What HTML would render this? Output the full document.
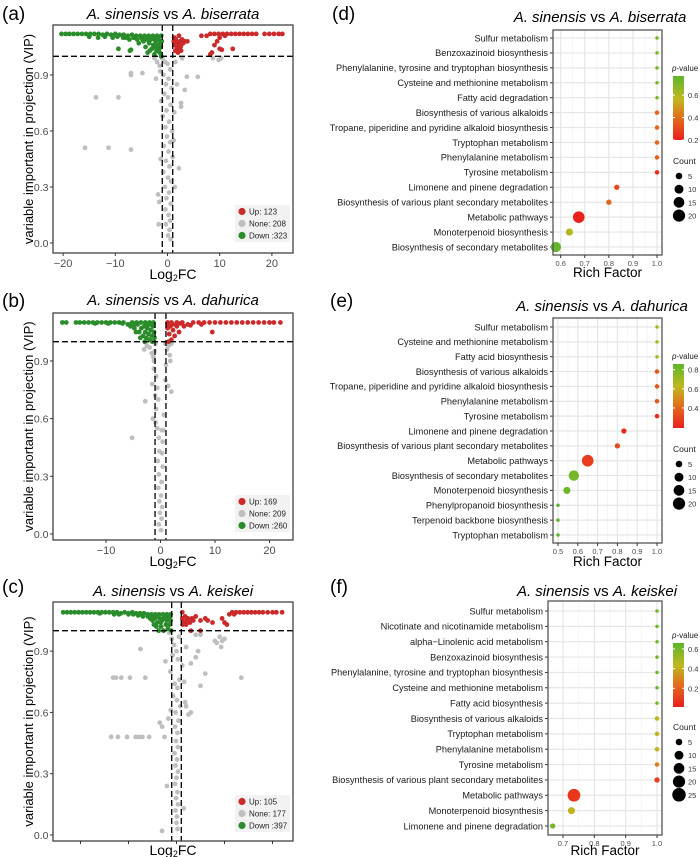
<!DOCTYPE html>
<html><head><meta charset="utf-8">
<style>
html,body{margin:0;padding:0;background:#fff;}
svg{display:block;font-family:"Liberation Sans",Arial,sans-serif;}
</style></head>
<body>
<svg id="fig" width="700" height="857" viewBox="0 0 700 857" xmlns="http://www.w3.org/2000/svg"></svg>
<script>
// ---------- Volcano data: [log2FC, VIP] ----------
const aGreen=[[-20.3,1.12],[-19.5,1.12],[-18.8,1.12],[-18,1.12],[-17.2,1.12],[-16.4,1.12],[-15.6,1.12],[-14.8,1.12],[-14,1.12],[-13.2,1.12],[-12.4,1.115],[-11.6,1.12],[-10.8,1.115],[-10,1.12],[-9.2,1.115],[-8.4,1.115],[-7.6,1.11],[-6.8,1.115],[-6,1.11],[-5.2,1.11],[-4.4,1.11],[-3.6,1.11],[-2.8,1.11],[-2,1.11],[-1.2,1.11],[-13.3,1.1],[-10.5,1.1],[-8.5,1.1],[-7.3,1.09],[-9.4,1.04],[-7.2,1.03],[-7,1.035],[-5.5,1.07],[-4.6,1.08],[-4.2,1.05],[-3.8,1.02],[-3.5,1.07],[-3.2,1.09],[-3,1.04],[-2.7,1.06],[-2.5,1.01],[-2.3,1.08],[-2.1,1.03],[-1.9,1.06],[-1.7,1.09],[-1.5,1.02],[-1.3,1.05],[-1.1,1.08],[-1.2,1.0],[-3.9,1.09],[-4.8,1.09],[-2.8,1.095],[-1.6,1.04],[-2.2,1.045],[-3.4,1.03],[-1.4,1.075],[-6.2,1.1],[-5.8,1.09],[-15,1.105],[-12,1.105],[-9.6,1.105],[-8,1.1],[-6.5,1.1],[-5,1.1],[-4,1.1],[-3,1.1],[-2.4,1.1],[-1.8,1.1]];
const aRed=[[1.2,1.08],[1.4,1.06],[1.6,1.09],[1.8,1.05],[2,1.07],[2.2,1.04],[2.4,1.08],[2.6,1.06],[2.8,1.09],[3,1.07],[3.3,1.08],[1.5,1.03],[2,1.02],[2.5,1.05],[1.3,1.1],[2.2,1.11],[3.8,1.08],[2.6,1.03],[7.5,1.11],[8.2,1.12],[9,1.12],[9.8,1.12],[10.6,1.12],[11.4,1.12],[12.2,1.12],[13,1.12],[13.8,1.12],[14.6,1.12],[15.4,1.12],[16.2,1.12],[17,1.12],[18.6,1.12],[19.5,1.12],[20.4,1.12],[21.3,1.12],[22,1.12],[10,1.1],[11,1.11],[8.5,1.02],[8.2,1.01],[10,1.04],[10.4,1.035],[12.5,1.04],[9,1.06],[9.5,1.08],[6.5,1.11]];
const aGray=[[-15.8,0.51],[-11.3,0.51],[-7,0.5],[-13.7,0.78],[-9.4,0.78],[-7,0.91],[-7,0.9],[-4.8,0.91],[-2.2,0.88],[3.7,0.89],[5.8,0.89],[3.3,0.82],[2.6,0.75],[2.6,0.73],[2.2,0.4],[-1.8,0.26],[-1.7,0.1],[-1.6,0.22],[9.8,0.98],[10.3,0.99],[8.7,0.99],[2.8,0.99],[-1,0.99],[-0.5,0.97],[0,0.96],[-1.5,0.95],[0.5,0.93],[-0.8,0.9],[0.2,0.88],[-0.3,0.85],[0.8,0.83],[-0.6,0.8],[0.1,0.78],[-1.2,0.76],[0.6,0.74],[-0.2,0.71],[1.3,0.7],[-0.9,0.68],[0.3,0.65],[-0.4,0.62],[0.9,0.6],[-0.1,0.57],[0.5,0.54],[-0.7,0.52],[0.2,0.49],[1,0.46],[-0.3,0.44],[0.4,0.41],[-0.8,0.38],[0.1,0.35],[0.7,0.33],[-0.5,0.3],[0.3,0.27],[-0.2,0.24],[0.6,0.21],[-0.4,0.18],[0.2,0.15],[0.5,0.12],[-0.3,0.1],[0.4,0.07],[0.1,0.04],[0.6,0.02],[-1.4,0.92],[1.5,0.97],[1.8,0.85],[-2,0.97],[-2.5,0.99],[1.2,0.55],[-1.3,0.45],[1.4,0.3]];
const bGreen=[[-18,1.1],[-17.3,1.1],[-15.5,1.1],[-14.8,1.1],[-14,1.1],[-13.2,1.1],[-12.4,1.1],[-11.6,1.1],[-10.8,1.1],[-10,1.1],[-9.2,1.1],[-8.4,1.1],[-7.6,1.1],[-6.8,1.1],[-6,1.09],[-5.2,1.1],[-4.4,1.1],[-3.6,1.1],[-2.8,1.1],[-2,1.1],[-1.3,1.1],[-5.5,1.08],[-4.8,1.07],[-4.2,1.09],[-3.9,1.05],[-3.5,1.07],[-3.2,1.03],[-3,1.08],[-2.8,1.05],[-2.6,1.02],[-2.4,1.07],[-2.2,1.04],[-2,1.01],[-1.8,1.06],[-1.6,1.03],[-1.4,1.08],[-1.2,1.05],[-1.1,1.02],[-4.5,1.05],[-3.7,1.02],[-2.9,1.0],[-2.5,1.09],[-1.9,1.09],[-1.5,1.0],[-12,1.095],[-9.6,1.095],[-7,1.095],[-5.6,1.09],[-4.8,1.09]];
const bRed=[[1.3,1.1],[2,1.1],[3,1.1],[4,1.1],[5,1.09],[6,1.1],[7,1.1],[8,1.1],[9,1.1],[10,1.1],[11,1.1],[12,1.1],[13,1.1],[14,1.1],[15,1.1],[16,1.1],[17,1.1],[18,1.1],[19,1.1],[20,1.1],[20.8,1.1],[22,1.1],[1.3,1.07],[1.6,1.04],[1.8,1.08],[2,1.01],[2.3,1.06],[2.6,1.03],[3,1.08],[3.4,1.05],[1.5,1.0],[2.8,1.09],[4.3,1.08],[5.5,1.085],[7.5,1.09],[9.5,1.05],[1.4,1.09],[2.2,1.09],[3.7,1.095]];
const bGray=[[-5.2,0.5],[-2.8,0.69],[2,0.74],[-2.5,0.98],[-2,0.97],[-1.6,0.94],[-1.3,0.92],[-1.1,0.95],[1.2,0.96],[1.5,0.98],[2,0.99],[1.8,0.9],[-1.2,0.86],[-0.8,0.82],[-1.5,0.78],[-0.6,0.76],[-1,0.72],[0.9,0.8],[1.4,0.77],[-0.4,0.7],[-1.4,0.6],[-0.9,0.58],[-0.6,0.55],[0.2,0.54],[0.5,0.54],[-0.3,0.5],[0.4,0.48],[-0.2,0.43],[0.3,0.42],[-0.5,0.38],[0.4,0.35],[-0.3,0.31],[0.2,0.27],[-0.4,0.24],[0.1,0.2],[-0.2,0.17],[0.3,0.14],[-0.1,0.11],[0.2,0.08],[-0.3,0.05],[0.1,0.02],[-0.8,0.65],[0.6,0.62],[-1.2,0.9],[1.0,0.88],[-0.9,0.99],[0.9,0.99],[-3,0.96],[1.7,0.93]];
const cGreen=[[-23.6,1.09],[-22.8,1.09],[-22,1.09],[-21.2,1.09],[-20.4,1.09],[-19.6,1.09],[-18.8,1.09],[-18,1.09],[-17.2,1.09],[-16.4,1.09],[-15.6,1.09],[-14.8,1.09],[-14,1.09],[-13.2,1.09],[-12.4,1.09],[-11.6,1.085],[-10.8,1.09],[-10,1.085],[-9.2,1.09],[-8.4,1.085],[-7.6,1.085],[-6.8,1.085],[-6,1.08],[-5.2,1.08],[-4.4,1.08],[-3.6,1.08],[-2.8,1.08],[-2,1.08],[-1.2,1.08],[-13,1.08],[-10,1.08],[-8,1.075],[-7,1.07],[-6,1.07],[-5.5,1.06],[-5,1.05],[-4.7,1.03],[-4.5,1.06],[-4.2,1.02],[-4,1.04],[-3.7,1.0],[-3.5,1.06],[-3.2,1.02],[-3,1.05],[-2.7,1.0],[-2.5,1.07],[-2.2,1.03],[-2,1.05],[-1.8,1.01],[-1.6,1.07],[-1.4,1.03],[-1.2,1.05],[-1.1,1.0],[-3.8,1.07],[-2.8,1.06],[-1.8,1.06],[-4.8,1.065],[-5.8,1.075],[-3.3,1.04],[-2.3,1.06],[-1.3,1.07],[-16,1.085],[-12,1.08],[-9,1.08],[-7.5,1.08]];
const cRed=[[1.2,1.06],[1.5,1.04],[1.8,1.07],[2.1,1.05],[2.4,1.06],[2.8,1.04],[3.2,1.06],[3.5,1.05],[1.3,1.03],[2,1.03],[5,1.05],[6,1.06],[6.5,1.05],[7.5,1.04],[9.5,1.06],[10,1.04],[10.5,1.03],[11,1.08],[11.6,1.09],[12.4,1.09],[13.2,1.09],[14,1.09],[14.8,1.09],[15.6,1.09],[16.4,1.09],[17.2,1.09],[18,1.09],[19,1.09],[20,1.09],[20.8,1.09],[22,1.09],[12,1.08],[3,1.0],[5,1.0],[1.2,1.09],[4,1.07]];
const cGray=[[-13.2,0.77],[-12.6,0.77],[-11.5,0.77],[-9.7,0.77],[-6.5,0.77],[-13.6,0.48],[-12.2,0.48],[-10.3,0.48],[-8.5,0.48],[-7.8,0.48],[-7.1,0.48],[-5.7,0.48],[-2.5,0.48],[-7.5,0.91],[-2.3,0.85],[-3.5,0.55],[-3,0.53],[9,0.97],[8.4,0.94],[9.5,0.95],[9.3,0.92],[10,0.96],[8,0.95],[13.5,0.77],[6,0.79],[5,0.73],[4,0.87],[4.5,0.9],[3,0.84],[5,0.98],[2,0.63],[2.5,0.59],[3,0.6],[-3,0.02],[1.5,0.13],[-2,0.24],[4,0.98],[-1.5,0.99],[-1,0.96],[-0.5,0.93],[0,0.9],[0.5,0.97],[-0.8,0.88],[0.3,0.86],[1.2,0.83],[-1.3,0.8],[0.6,0.76],[-0.4,0.74],[0.2,0.72],[-0.7,0.68],[0.1,0.66],[0.8,0.63],[-0.2,0.6],[-1.2,0.61],[0.4,0.56],[-0.3,0.53],[0.2,0.5],[-0.1,0.46],[0.3,0.43],[-0.4,0.4],[0.1,0.37],[-0.2,0.34],[0.3,0.31],[0,0.28],[-0.3,0.25],[0.2,0.21],[-0.1,0.18],[0.3,0.15],[-0.2,0.12],[0.1,0.09],[0,0.06],[0.2,0.03],[1.6,0.75],[2,0.92],[-1.7,0.57],[1.8,0.65]];
const aCounts=["Up: 123","None: 208","Down :323"];
const bCounts=["Up: 169","None: 209","Down :260"];
const cCounts=["Up: 105","None: 177","Down :397"];
const vipTicks=[0,0.3,0.6,0.9];
const vipTickLabels=["0.0","0.3","0.6","0.9"];
const aXTicks=[-20,-10,0,10,20];
const bXTicks=[-10,0,10,20];
const cXTicks=[-20,-10,0,10,20];

// ---------- Enrichment data ----------
const dTerms=["Sulfur metabolism","Benzoxazinoid biosynthesis","Phenylalanine, tyrosine and tryptophan biosynthesis","Cysteine and methionine metabolism","Fatty acid degradation","Biosynthesis of various alkaloids","Tropane, piperidine and pyridine alkaloid biosynthesis","Tryptophan metabolism","Phenylalanine metabolism","Tyrosine metabolism","Limonene and pinene degradation","Biosynthesis of various plant secondary metabolites","Metabolic pathways","Monoterpenoid biosynthesis","Biosynthesis of secondary metabolites"];
const dRich=[1,1,1,1,1,1,1,1,1,1,0.833,0.8,0.675,0.636,0.58];
const dCount=[1,1,1,1,1,2,2,2,2,2,3,3,18,6,14];
const dP=[0.72,0.72,0.72,0.72,0.72,0.38,0.38,0.38,0.38,0.24,0.3,0.38,0.21,0.6,0.75];
const eTerms=["Sulfur metabolism","Cysteine and methionine metabolism","Fatty acid biosynthesis","Biosynthesis of various alkaloids","Tropane, piperidine and pyridine alkaloid biosynthesis","Phenylalanine metabolism","Tyrosine metabolism","Limonene and pinene degradation","Biosynthesis of various plant secondary metabolites","Metabolic pathways","Biosynthesis of secondary metabolites","Monoterpenoid biosynthesis","Phenylpropanoid biosynthesis","Terpenoid backbone biosynthesis","Tryptophan metabolism"];
const eRich=[1,1,1,1,1,1,1,0.833,0.8,0.65,0.58,0.545,0.5,0.5,0.5];
const eCount=[1,1,1,2,2,2,2,3,3,18,14,6,1,1,1];
const eP=[0.68,0.68,0.68,0.36,0.36,0.36,0.22,0.22,0.32,0.28,0.8,0.82,0.85,0.85,0.85];
const fTerms=["Sulfur metabolism","Nicotinate and nicotinamide metabolism","alpha\u2212Linolenic acid metabolism","Benzoxazinoid biosynthesis","Phenylalanine, tyrosine and tryptophan biosynthesis","Cysteine and methionine metabolism","Fatty acid biosynthesis","Biosynthesis of various alkaloids","Tryptophan metabolism","Phenylalanine metabolism","Tyrosine metabolism","Biosynthesis of various plant secondary metabolites","Metabolic pathways","Monoterpenoid biosynthesis","Limonene and pinene degradation"];
const fRich=[1,1,1,1,1,1,1,1,1,1,1,1,0.735,0.727,0.667];
const fCount=[1,1,1,1,1,1,1,2,2,2,2,3,22,6,3];
const fP=[0.62,0.62,0.62,0.62,0.62,0.62,0.62,0.42,0.42,0.42,0.28,0.1,0.08,0.42,0.6];
const dTicks=[0.6,0.7,0.8,0.9,1.0];
const eTicks=[0.5,0.6,0.7,0.8,0.9,1.0];
const fTicks=[0.7,0.8,0.9,1.0];
const dCountLegend=[5,10,15,20];
const eCountLegend=[5,10,15,20];
const fCountLegend=[5,10,15,20,25];
const dPTicks=[0.2,0.4,0.6];
const ePTicks=[0.4,0.6,0.8];
const fPTicks=[0.2,0.4,0.6];

const NS="http://www.w3.org/2000/svg";
const svg=document.getElementById('fig');
function mk(tag,attrs,parent,text){
  const e=document.createElementNS(NS,tag);
  for(const k in attrs) e.setAttribute(k,attrs[k]);
  if(text!==undefined) e.textContent=text;
  (parent||svg).appendChild(e);
  return e;
}
function titleText(g,x,y,a){
  const t=mk('text',{x:x,y:y,'text-anchor':'middle','font-size':15,fill:'#000'},g);
  
  
  mk('tspan',{'font-style':'italic'},t,'A. sinensis');
  mk('tspan',{},t,' vs ');
  mk('tspan',{'font-style':'italic'},t,a);
  return t;
}

function volcano(c){
  const g=mk('g',{});
  
  
  const X=v=>c.x0+v*c.xs, Y=v=>c.y0-v*c.ys;
  const lt=mk('text',{x:2,y:c.letterY,'font-size':19,fill:'#000'},g,c.letter);
  
  
  titleText(g,173,c.titleY,c.species);
  mk('rect',{x:c.l,y:c.t,width:c.r-c.l,height:c.b-c.t,fill:'#fff'},g);
  const clip='clip'+c.letter.replace(/\W/g,'');
  const cp=mk('clipPath',{id:clip},g);
  mk('rect',{x:c.l,y:c.t,width:c.r-c.l,height:c.b-c.t},cp);
  const pts=mk('g',{'clip-path':'url(#'+clip+')'},g);
  const sets=[[c.gray,'#bfbfbf','point-none'],[c.green,'#2a8c2a','point-down'],[c.red,'#cc2a2a','point-up']];
  sets.forEach(s=>{
    s[0].forEach(p=>{
      const ci=mk('circle',{cx:X(p[0]),cy:Y(p[1]),r:2.4,fill:s[1]},pts);
      
      
    });
  });
  [-1,1].forEach(v=>{
    const ln=mk('line',{x1:X(v),x2:X(v),y1:c.t,y2:c.b,stroke:'#000','stroke-width':1.3,'stroke-dasharray':'6,3'},g);
    
    
  });
  const hl=mk('line',{x1:c.l,x2:c.r,y1:Y(1),y2:Y(1),stroke:'#000','stroke-width':1.3,'stroke-dasharray':'6,3'},g);
  
  
  const fr=mk('rect',{x:c.l,y:c.t,width:c.r-c.l,height:c.b-c.t,fill:'none',stroke:'#333','stroke-width':1.2},g);
  
  
  vipTicks.forEach((v,i)=>{
    mk('line',{x1:c.l-3,x2:c.l,y1:Y(v),y2:Y(v),stroke:'#333'},g);
    const t=mk('text',{x:c.l-4.5,y:Y(v)+4,'text-anchor':'end','font-size':10.5,fill:'#4d4d4d'},g,vipTickLabels[i]);
    
    
  });
  c.xticks.forEach(v=>{
    mk('line',{x1:X(v),x2:X(v),y1:c.b,y2:c.b+3,stroke:'#333'},g);
    if(c.showX){
      const t=mk('text',{x:X(v),y:c.b+14,'text-anchor':'middle','font-size':11,fill:'#4d4d4d'},g,(v<0?'\u2212'+(-v):String(v)));
      
      
    }
  });
  const xt=mk('text',{x:173,y:c.xlabY,'text-anchor':'middle','font-size':14,fill:'#000'},g);
  
  
  mk('tspan',{},xt,'Log');
  mk('tspan',{'font-size':9,dy:2},xt,'2');
  mk('tspan',{dy:-2},xt,'FC');
  const cy=(c.t+c.b)/2;
  const yt=mk('text',{x:33,y:cy,'text-anchor':'middle','font-size':13,fill:'#000',transform:'rotate(-90 33 '+cy+')'},g,'variable important in projection (VIP)');
  
  
  const lg=mk('g',{},g);
  
  
  mk('rect',{x:235,y:c.legY,width:55,height:37,fill:'#f2f2f2'},lg);
  const lc=['#cc2a2a','#bfbfbf','#2a8c2a'];
  c.counts.forEach((s,i)=>{
    const yy=c.legY+6.5+i*12;
    const ci=mk('circle',{cx:242,cy:yy,r:3.6,fill:lc[i]},lg);
    
    
    const t=mk('text',{x:249,y:yy+3,'font-size':8,fill:'#222'},lg,s);
    
    
  });
}

const stops=[[0,[234,30,30]],[0.35,[226,110,28]],[0.65,[190,185,30]],[1,[92,182,44]]];
function pcol(t){
  t=Math.max(0,Math.min(1,t));
  for(let i=1;i<stops.length;i++){
    if(t<=stops[i][0]){
      const a=stops[i-1],b=stops[i],f=(t-a[0])/(b[0]-a[0]);
      const c=a[1].map((v,k)=>Math.round(v+(b[1][k]-v)*f));
      return 'rgb('+c.join(',')+')';
    }
  }
  return 'rgb(92,182,44)';
}
const rs=c=>1.25*Math.sqrt(c)+0.5;

function enrich(c){
  const g=mk('g',{});
  
  
  const X=v=>c.xA+(v-c.vA)*c.xs;
  const n=c.terms.length;
  const Yr=i=>c.row0+i*(c.row1-c.row0)/(n-1);
  const lt=mk('text',{x:c.letterX,y:c.letterY,'font-size':19,fill:'#000'},g,c.letter);
  
  
  titleText(g,c.titleX,c.titleY,c.species);
  mk('rect',{x:c.l,y:c.t,width:c.r-c.l,height:c.b-c.t,fill:'#fff'},g);
  for(let i=0;i<c.ticks.length-1;i++){
    const m=(c.ticks[i]+c.ticks[i+1])/2;
    mk('line',{x1:X(m),x2:X(m),y1:c.t,y2:c.b,stroke:'#f2f2f2','stroke-width':0.8},g);
  }
  c.ticks.forEach(v=>mk('line',{x1:X(v),x2:X(v),y1:c.t,y2:c.b,stroke:'#e6e6e6','stroke-width':1.2},g));
  c.terms.forEach((s,i)=>{
    mk('line',{x1:c.l,x2:c.r,y1:Yr(i),y2:Yr(i),stroke:'#e6e6e6','stroke-width':1.2},g);
    mk('line',{x1:c.l-3,x2:c.l,y1:Yr(i),y2:Yr(i),stroke:'#333'},g);
    const t=mk('text',{x:c.l-5,y:Yr(i)+3.3,'text-anchor':'end','font-size':9.2,fill:'#1a1a1a'},g,s);
    
    
  });
  c.terms.forEach((s,i)=>{
    const ci=mk('circle',{cx:X(c.rich[i]),cy:Yr(i),r:rs(c.count[i]),fill:pcol((c.p[i]-c.pmin)/(c.pmax-c.pmin))},g);
    
    
  });
  const fr=mk('rect',{x:c.l,y:c.t,width:c.r-c.l,height:c.b-c.t,fill:'none',stroke:'#555','stroke-width':1.3},g);
  
  
  c.ticks.forEach(v=>{
    mk('line',{x1:X(v),x2:X(v),y1:c.b,y2:c.b+3,stroke:'#333'},g);
    const t=mk('text',{x:X(v),y:c.b+11,'text-anchor':'middle','font-size':7.5,fill:'#4d4d4d'},g,v.toFixed(1));
    
    
  });
  const xt=mk('text',{x:(c.l+c.r)/2,y:c.xlabY,'text-anchor':'middle','font-size':13.5,fill:'#000'},g,'Rich Factor');
  
  
  const cb=mk('g',{},g);
  
  
  const pl=mk('text',{x:c.cbX-1,y:c.cbT-5,'font-size':8,fill:'#222'},cb);
  mk('tspan',{'font-style':'italic'},pl,'p');
  mk('tspan',{},pl,'-value');
  const gid='grad'+c.letter.replace(/\W/g,'');
  const gr=mk('linearGradient',{id:gid,x1:0,y1:1,x2:0,y2:0},cb);
  stops.forEach(s=>mk('stop',{offset:s[0],'stop-color':'rgb('+s[1].join(',')+')'},gr));
  mk('rect',{x:c.cbX,y:c.cbT,width:11,height:c.cbB-c.cbT,fill:'url(#'+gid+')'},cb);
  const PY=v=>c.cbB-(v-c.pmin)/(c.pmax-c.pmin)*(c.cbB-c.cbT);
  c.pticks.forEach(v=>{
    mk('line',{x1:c.cbX,x2:c.cbX+2,y1:PY(v),y2:PY(v),stroke:'#fff'},cb);
    mk('line',{x1:c.cbX+9,x2:c.cbX+11,y1:PY(v),y2:PY(v),stroke:'#fff'},cb);
    mk('text',{x:c.cbX+15,y:PY(v)+3,'font-size':7.5,fill:'#333'},cb,v.toFixed(1));
  });
  const cl=mk('g',{},g);
  
  
  mk('text',{x:c.cbX,y:c.cntY,'font-size':8.5,fill:'#222'},cl,'Count');
  c.cntLegend.forEach((v,i)=>{
    const yy=c.cntY+12+i*13.2;
    mk('circle',{cx:c.cbX+6,cy:yy,r:rs(v),fill:'#000'},cl);
    mk('text',{x:c.cbX+15,y:yy+3,'font-size':7.5,fill:'#333'},cl,String(v));
  });
}

volcano({name:'volcano-a',letter:'(a)',letterY:20,species:'A. biserrata',titleY:19,l:53,r:293,t:25,b:253,x0:167.5,xs:5.22,y0:243,ys:186.7,xticks:aXTicks,showX:true,green:aGreen,red:aRed,gray:aGray,counts:aCounts,legY:205,xlabY:279});
volcano({name:'volcano-b',letter:'(b)',letterY:307,species:'A. dahurica',titleY:305,l:53,r:293,t:313,b:540,x0:160.5,xs:5.45,y0:534,ys:192.3,xticks:bXTicks,showX:true,green:bGreen,red:bRed,gray:bGray,counts:bCounts,legY:495,xlabY:566});
volcano({name:'volcano-c',letter:'(c)',letterY:593,species:'A. keiskei',titleY:596,l:53,r:293,t:602,b:841,x0:176.5,xs:4.8,y0:835,ys:204.3,xticks:cXTicks,showX:false,green:cGreen,red:cRed,gray:cGray,counts:cCounts,legY:795,xlabY:855});

enrich({name:'enrichment-d',letter:'(d)',letterX:332,letterY:20,species:'A. biserrata',titleX:600,titleY:22,l:553,r:662,t:30,b:255,row0:38,row1:247,xA:560.7,vA:0.6,xs:240.75,ticks:dTicks,terms:dTerms,rich:dRich,count:dCount,p:dP,pmin:0.2,pmax:0.77,pticks:dPTicks,cbX:673,cbT:76,cbB:140,cntY:164,cntLegend:dCountLegend,xlabY:277});
enrich({name:'enrichment-e',letter:'(e)',letterX:330,letterY:307,species:'A. dahurica',titleX:602,titleY:311,l:553,r:662,t:318,b:543,row0:327,row1:535,xA:558,vA:0.5,xs:198,ticks:eTicks,terms:eTerms,rich:eRich,count:eCount,p:eP,pmin:0.19,pmax:0.86,pticks:ePTicks,cbX:673,cbT:364,cbB:428,cntY:452,cntLegend:eCountLegend,xlabY:566});
enrich({name:'enrichment-f',letter:'(f)',letterX:330,letterY:593,species:'A. keiskei',titleX:597,titleY:596,l:548,r:662,t:601,b:835,row0:611,row1:826,xA:563,vA:0.7,xs:313.3,ticks:fTicks,terms:fTerms,rich:fRich,count:fCount,p:fP,pmin:0.01,pmax:0.66,pticks:fPTicks,cbX:673,cbT:643,cbB:707,cntY:730,cntLegend:fCountLegend,xlabY:855});
</script>
</body></html>
